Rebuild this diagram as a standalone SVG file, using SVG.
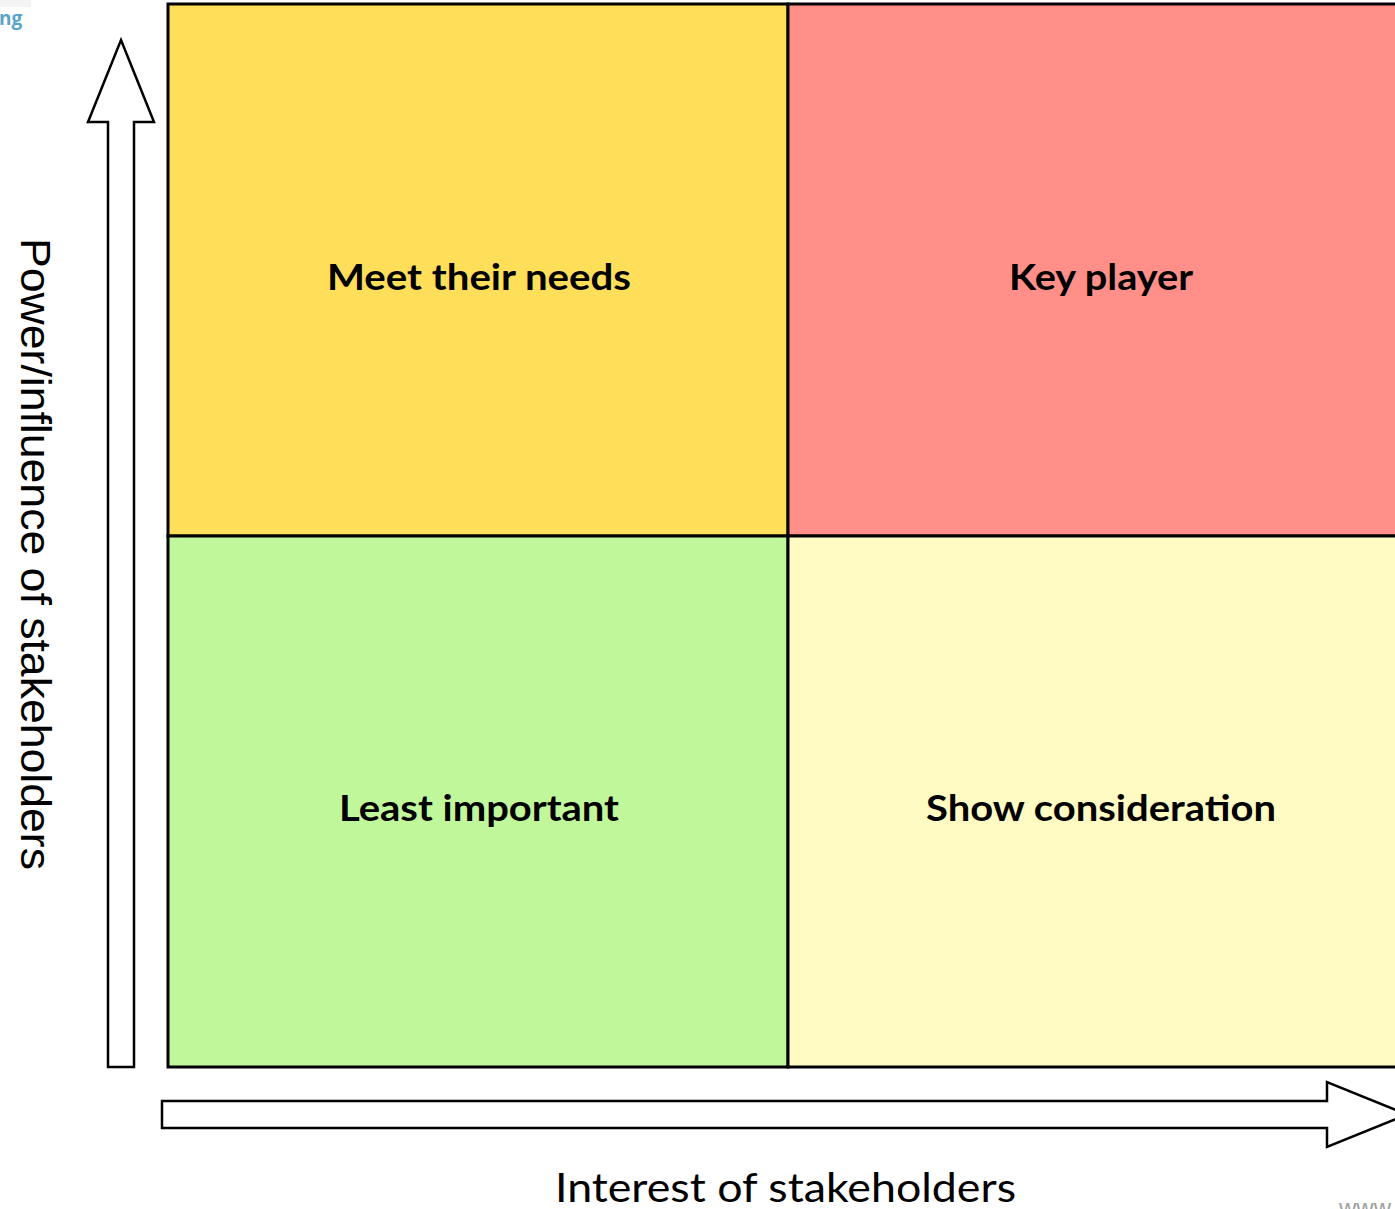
<svg xmlns="http://www.w3.org/2000/svg" width="1395" height="1209" viewBox="0 0 1395 1209">
  <style>
    .cell { stroke: #000; stroke-width: 3; }
    .label { font-family: Lato, "Liberation Sans", sans-serif; font-weight: 700; font-size: 36px; fill: #000; text-anchor: middle; }
    .axis-arrow { fill: #fff; stroke: #000; stroke-width: 2.5; stroke-linejoin: miter; }
    .axis-text { font-family: Lato, "Liberation Sans", sans-serif; font-size: 40px; fill: #000; text-anchor: middle; }
  </style>

  <rect width="1395" height="1209" fill="#fff"/>

  <!-- header fragment -->
  <rect x="0" y="0" width="31" height="7" fill="#f3f3f3"/>
  <text x="-1" y="25" font-family="'Open Sans', 'Liberation Sans', sans-serif" font-weight="700" font-size="19" fill="#5ba4c9">ng</text>

  <!-- quadrants -->
  <g id="meet-their-needs">
    <rect class="cell" x="168" y="4" width="620" height="532" fill="#ffde59"/>
    <text class="label" x="479" y="290" textLength="304" lengthAdjust="spacingAndGlyphs">Meet their needs</text>
  </g>
  <g id="key-player">
    <rect class="cell" x="788" y="4" width="626" height="532" fill="#ff8f88"/>
    <text class="label" x="1101" y="290" textLength="184" lengthAdjust="spacingAndGlyphs">Key player</text>
  </g>
  <g id="least-important">
    <rect class="cell" x="168" y="536" width="620" height="531" fill="#c1f79b"/>
    <text class="label" x="479" y="821" textLength="280" lengthAdjust="spacingAndGlyphs">Least important</text>
  </g>
  <g id="show-consideration">
    <rect class="cell" x="788" y="536" width="626" height="531" fill="#fffbc2"/>
    <text class="label" x="1101" y="821" textLength="350" lengthAdjust="spacingAndGlyphs">Show consideration</text>
  </g>

  <!-- axes -->
  <g id="connectors">
    <polygon class="axis-arrow" points="121,40 154,122 134,122 134,1067 108,1067 108,122 88,122"/>
    <polygon class="axis-arrow" points="162,1101 1327,1101 1327,1082 1407,1114.5 1327,1147 1327,1128 162,1128"/>
  </g>

  <g id="axis-power">
    <text transform="translate(21,554) rotate(90)" font-family="'Liberation Sans', Arial, sans-serif" font-size="43" fill="#000" text-anchor="middle" textLength="632" lengthAdjust="spacingAndGlyphs">Power/influence of stakeholders</text>
  </g>
  <g id="axis-interest">
    <text class="axis-text" x="785.5" y="1202" textLength="461" lengthAdjust="spacingAndGlyphs">Interest of stakeholders</text>
  </g>

  <!-- footer fragment -->
  <text x="1339" y="1216" font-family="'Liberation Sans', Arial, sans-serif" font-size="24" fill="#a0a0a0">www</text>
</svg>
